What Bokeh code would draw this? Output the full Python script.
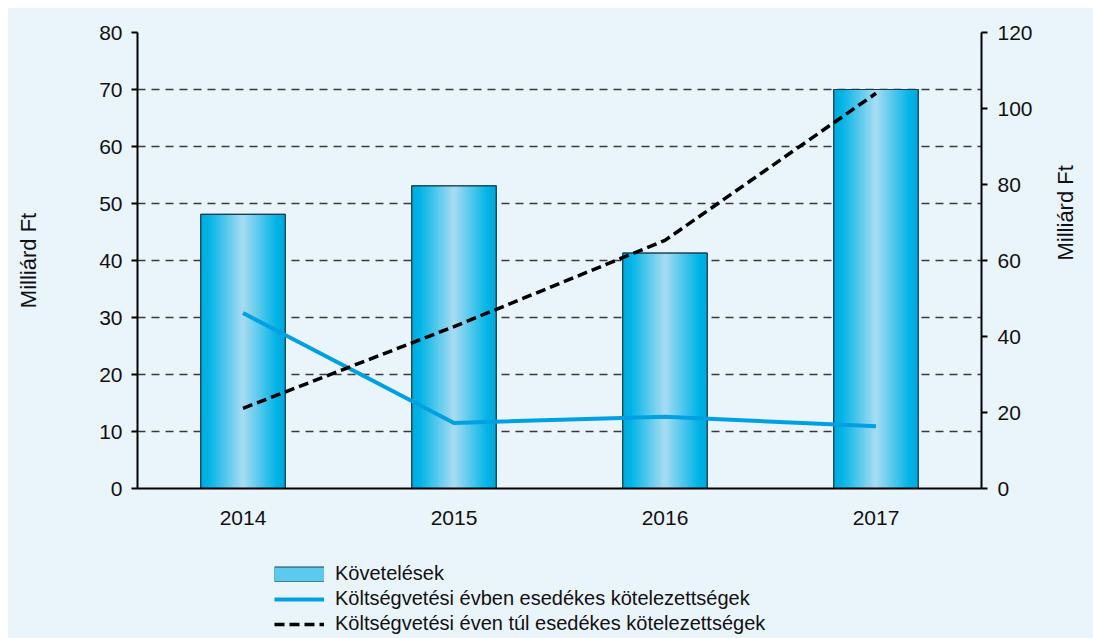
import math
from bokeh.plotting import figure
from bokeh.models import (Range1d, LinearAxis, FixedTicker, Legend, LegendItem,
                          ColumnDataSource, Spacer)
from bokeh.layouts import column, row
from bokeh.embed import file_html
from bokeh.resources import INLINE

# ---- data ----
years = [2014, 2015, 2016, 2017]
year_labels = ["2014", "2015", "2016", "2017"]
kovetelesek = [48.1, 53.1, 41.3, 70.0]              # left axis (bars)
evben_esedekes = [30.8, 11.5, 12.6, 10.9]          # left axis (blue line)
even_tul_esedekes = [21.1, 42.6, 65.3, 104.0]      # right axis (dashed line)
left_ticks = [0, 10, 20, 30, 40, 50, 60, 70, 80]
right_ticks = [0, 20, 40, 60, 80, 100, 120]

names = ["Követelések",
         "Költségvetési évben esedékes kötelezettségek",
         "Költségvetési éven túl esedékes kötelezettségek"]

FONT = "Liberation Sans"
BG = "#EAF4FB"
TXT = "#111111"
BAR_FILL = "#5CC9EE"
BAR_LINE = "#1d3d4d"
BLUE = "#00A0E3"
RMAX = 120

p = figure(width=1085, height=537, output_backend="svg", toolbar_location=None,
           x_range=Range1d(2013.5, 2017.5), y_range=Range1d(0, 80),
           min_border_left=129, min_border_right=108, min_border_top=24,
           min_border_bottom=57)
p.background_fill_color = BG
p.border_fill_color = BG
p.outline_line_color = None
p.extra_y_ranges = {"right": Range1d(0, RMAX)}

# axes
p.xaxis.ticker = FixedTicker(ticks=years)
p.xaxis.major_label_overrides = {y: l for y, l in zip(years, year_labels)}
p.xaxis.major_tick_line_color = None
p.xaxis.minor_tick_line_color = None
p.xaxis.major_label_standoff = 16

p.yaxis.ticker = FixedTicker(ticks=left_ticks)
p.yaxis.axis_label = "Milliárd Ft"
p.yaxis.axis_label_standoff = 55

ra = LinearAxis(y_range_name="right", ticker=FixedTicker(ticks=right_ticks))
p.add_layout(ra, "right")

# title-only right axis: rotated to read bottom-to-top; the text starts at the
# middle of its bounds, so the bounds are chosen to centre it on the frame
ra_lab = LinearAxis(y_range_name="right", ticker=FixedTicker(ticks=[]),
                    axis_label="Milliárd Ft", bounds=(0, RMAX * 0.803))
ra_lab.axis_label_orientation = math.pi / 2
ra_lab.axis_label_standoff = 30
ra_lab.axis_line_color = None
ra_lab.major_tick_line_color = None
ra_lab.major_tick_out = 0
ra_lab.major_tick_in = 0
ra_lab.minor_tick_line_color = None
ra_lab.major_label_standoff = 0
p.add_layout(ra_lab, "right")

for ax in [p.xaxis[0], p.yaxis[0], ra, ra_lab]:
    ax.major_label_text_font = FONT
    ax.major_label_text_font_size = "21px"
    ax.major_label_text_color = TXT
    ax.axis_label_text_font = FONT
    ax.axis_label_text_font_size = "22px"
    ax.axis_label_text_font_style = "normal"
    ax.axis_label_text_color = TXT
    ax.minor_tick_line_color = None
for ax in [p.xaxis[0], p.yaxis[0], ra]:
    ax.axis_line_width = 2
    ax.axis_line_color = "black"
for ax in [p.yaxis[0], ra]:
    ax.major_tick_line_width = 2
    ax.major_tick_line_color = "black"
    ax.major_tick_out = 6
    ax.major_tick_in = 0
p.yaxis.major_label_standoff = 9
ra.major_label_standoff = 10

# grid
p.xgrid.grid_line_color = None
p.ygrid.ticker = FixedTicker(ticks=left_ticks)
p.ygrid.grid_line_color = "#3a3a3a"
p.ygrid.grid_line_width = 1.4
p.ygrid.grid_line_dash = "8 6"

# bars: base, gradient strips, outline
bar_w = 0.4
p.vbar(x=years, top=kovetelesek, width=bar_w, bottom=0,
       fill_color=BAR_FILL, line_color=BAR_LINE, line_width=1)

stops = [(0.0, (0, 168, 220)), (0.1, (0, 180, 230)), (0.5, (170, 221, 243)),
         (0.9, (0, 180, 230)), (1.0, (0, 168, 220))]


def grad(t):
    for (t0, c0), (t1, c1) in zip(stops[:-1], stops[1:]):
        if t0 <= t <= t1:
            f = (t - t0) / (t1 - t0)
            c = [round(a + (b - a) * f) for a, b in zip(c0, c1)]
            return "#%02x%02x%02x" % tuple(c)
    return "#00b4e6"


n = 44
sw = bar_w / n
xs, tops, cols = [], [], []
for yr, v in zip(years, kovetelesek):
    for i in range(n):
        t = (i + 0.5) / n
        xs.append(yr - bar_w / 2 + (i + 0.5) * sw)
        tops.append(v)
        cols.append(grad(t))
src = ColumnDataSource(dict(x=xs, top=tops, c=cols))
p.vbar(x="x", top="top", width=sw, bottom=0, source=src,
       fill_color="c", line_color="c", line_width=0.6)
p.vbar(x=years, top=kovetelesek, width=bar_w, bottom=0,
       fill_color=None, line_color=BAR_LINE, line_width=1.2)

# lines
p.line(years, evben_esedekes, line_color=BLUE, line_width=4)
p.line(years, even_tul_esedekes, y_range_name="right", line_color="black",
       line_width=3.5, line_dash="10 5")

# ---- legend strip below the chart (legend swatches only; out of view) ----
lg = figure(width=1085, height=93, output_backend="svg", toolbar_location=None,
            x_range=Range1d(0, 1), y_range=Range1d(0, 1), min_border=0)
lg.axis.visible = False
lg.grid.visible = False
lg.background_fill_color = BG
lg.border_fill_color = BG
lg.outline_line_color = None
r0a = lg.line(x=[-5, -4], y=[-5, -5], line_color=BAR_LINE, line_width=16)
r0b = lg.line(x=[-5, -4], y=[-5, -5], line_color=BAR_FILL, line_width=14)
r1 = lg.line(x=[-5, -4], y=[-5, -5], line_color=BLUE, line_width=4)
r2 = lg.line(x=[-5, -4], y=[-5, -5], line_color="black", line_width=3.5,
             line_dash="10 5")

legend = Legend(items=[LegendItem(label=names[0], renderers=[r0a, r0b]),
                       LegendItem(label=names[1], renderers=[r1]),
                       LegendItem(label=names[2], renderers=[r2])],
                location=(137, 3))
legend.background_fill_alpha = 0
legend.border_line_color = None
legend.padding = 0
legend.margin = 0
legend.spacing = 2
legend.glyph_width = 50
legend.glyph_height = 16
legend.label_standoff = 11
legend.label_text_font = FONT
legend.label_text_font_size = "20px"
legend.label_text_color = TXT
legend.label_height = 20
lg.add_layout(legend, "center")

chart = column(p, lg, spacing=0, styles={"background-color": BG})
layout = column(Spacer(height=8), row(Spacer(width=8), chart, spacing=0),
                spacing=0)
open("out.html", "w").write(file_html(layout, INLINE))
